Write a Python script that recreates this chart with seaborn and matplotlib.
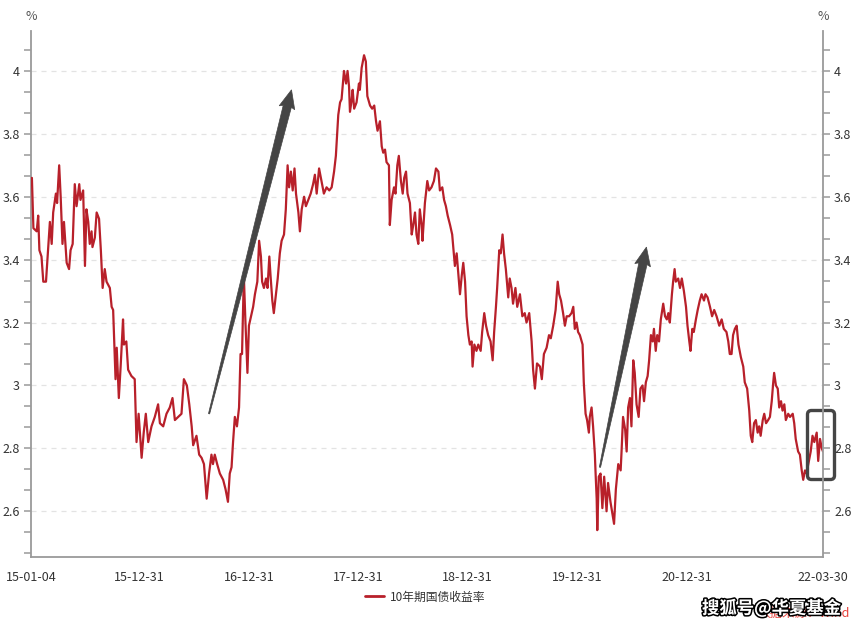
import numpy as np
import pandas as pd
import matplotlib
matplotlib.use("Agg")
import matplotlib.pyplot as plt
import matplotlib.dates as mdates
import matplotlib.patheffects as pe
from matplotlib.patches import FancyBboxPatch, Polygon
from matplotlib.lines import Line2D
import seaborn as sns

# ---------------- data ----------------
dates_2015 = ["2015-01-04","2015-01-07","2015-01-12","2015-01-23","2015-01-28","2015-02-01","2015-02-08",
              "2015-02-14","2015-02-23","2015-03-02","2015-03-08","2015-03-14","2015-03-19","2015-03-28",
              "2015-04-01","2015-04-08","2015-04-13","2015-04-19","2015-04-24","2015-05-03","2015-05-11",
              "2015-05-16","2015-05-23","2015-05-30","2015-06-05","2015-06-14","2015-06-18","2015-06-27",
              "2015-07-03","2015-07-08","2015-07-14","2015-07-19","2015-07-25","2015-07-28","2015-08-05",
              "2015-08-11","2015-08-19","2015-08-25","2015-08-31","2015-09-07","2015-09-13","2015-09-24",
              "2015-09-30","2015-10-05","2015-10-13","2015-10-17","2015-10-24","2015-10-30","2015-11-07",
              "2015-11-10","2015-11-18","2015-11-24","2015-12-05","2015-12-16","2015-12-22","2015-12-29"]
yields_2015 = [3.64,3.66,3.50,3.49,3.54,3.43,3.41,3.33,3.33,3.43,3.52,3.45,3.55,3.61,
               3.58,3.70,3.60,3.45,3.52,3.39,3.37,3.43,3.45,3.64,3.57,3.64,3.59,3.62,
               3.38,3.56,3.52,3.45,3.49,3.44,3.47,3.55,3.53,3.43,3.31,3.37,3.33,3.31,
               3.25,3.24,3.02,3.12,2.96,3.06,3.21,3.13,3.14,3.05,3.03,3.02,2.82,2.91]

dates_2016 = ["2016-01-08","2016-01-15","2016-01-22","2016-01-30","2016-02-10","2016-02-21","2016-03-03",
              "2016-03-09","2016-03-20","2016-03-31","2016-04-11","2016-04-20","2016-04-28","2016-05-09",
              "2016-05-20","2016-05-28","2016-06-07","2016-06-15","2016-06-23","2016-06-28","2016-07-09",
              "2016-07-18","2016-07-26","2016-08-03","2016-08-12","2016-08-20","2016-08-28","2016-09-02",
              "2016-09-08","2016-09-16","2016-09-25","2016-10-06","2016-10-14","2016-10-22","2016-10-28",
              "2016-11-03","2016-11-08","2016-11-14","2016-11-21","2016-11-28","2016-12-03","2016-12-08",
              "2016-12-14","2016-12-19","2016-12-26","2016-12-31"]
yields_2016 = [2.77,2.85,2.91,2.82,2.87,2.90,2.94,2.88,2.87,2.91,2.93,2.96,2.89,2.90,
               2.91,3.02,3.00,2.94,2.87,2.81,2.84,2.78,2.77,2.75,2.64,2.72,2.78,2.75,
               2.78,2.75,2.72,2.70,2.67,2.63,2.72,2.74,2.82,2.90,2.87,2.93,3.10,3.10,
               3.35,3.21,3.04,3.19]

dates_2017 = ["2017-01-07","2017-01-14","2017-01-20","2017-01-28","2017-02-03","2017-02-09","2017-02-13",
              "2017-02-19","2017-02-26","2017-03-03","2017-03-09","2017-03-13","2017-03-19","2017-03-24",
              "2017-03-31","2017-04-06","2017-04-13","2017-04-19","2017-04-27","2017-05-03","2017-05-09",
              "2017-05-14","2017-05-20","2017-05-26","2017-06-01","2017-06-06","2017-06-14","2017-06-19",
              "2017-06-25","2017-07-03","2017-07-09","2017-07-17","2017-07-25","2017-08-02","2017-08-08",
              "2017-08-14","2017-08-22","2017-08-30","2017-09-07","2017-09-16","2017-09-25","2017-10-03",
              "2017-10-11","2017-10-17","2017-10-25","2017-10-31","2017-11-05","2017-11-13","2017-11-20",
              "2017-11-25","2017-11-30","2017-12-03","2017-12-09","2017-12-12","2017-12-17","2017-12-25"]
yields_2017 = [3.22,3.25,3.29,3.33,3.46,3.41,3.33,3.31,3.34,3.31,3.41,3.35,3.27,3.23,
               3.29,3.34,3.42,3.46,3.48,3.56,3.70,3.63,3.68,3.62,3.69,3.61,3.55,3.49,
               3.56,3.60,3.57,3.59,3.61,3.64,3.67,3.61,3.69,3.65,3.61,3.63,3.62,3.63,
               3.68,3.73,3.86,3.90,3.91,4.00,3.96,4.00,3.95,3.87,3.91,3.94,3.88,3.90]

dates_2018 = ["2018-01-02","2018-01-05","2018-01-11","2018-01-19","2018-01-25","2018-01-30","2018-02-08",
              "2018-02-15","2018-02-22","2018-02-28","2018-03-05","2018-03-13","2018-03-19","2018-03-24",
              "2018-03-30","2018-04-04","2018-04-12","2018-04-15","2018-04-21","2018-04-29","2018-05-04",
              "2018-05-10","2018-05-15","2018-05-22","2018-05-28","2018-06-02","2018-06-08","2018-06-13",
              "2018-06-21","2018-06-27","2018-07-02","2018-07-08","2018-07-13","2018-07-19","2018-07-24",
              "2018-07-30","2018-08-02","2018-08-10","2018-08-18","2018-08-24","2018-09-01","2018-09-09",
              "2018-09-16","2018-09-24","2018-09-29","2018-10-07","2018-10-13","2018-10-19","2018-10-25",
              "2018-11-02","2018-11-09","2018-11-18","2018-11-24","2018-11-29","2018-12-05","2018-12-11",
              "2018-12-16","2018-12-22","2018-12-27"]
yields_2018 = [3.96,3.94,4.01,4.05,4.03,3.92,3.89,3.88,3.89,3.84,3.81,3.84,3.76,3.74,
               3.75,3.71,3.70,3.51,3.59,3.63,3.61,3.70,3.73,3.65,3.61,3.66,3.68,3.61,
               3.58,3.48,3.51,3.55,3.48,3.45,3.56,3.51,3.46,3.58,3.65,3.62,3.63,3.65,
               3.69,3.68,3.62,3.63,3.59,3.57,3.54,3.51,3.48,3.38,3.42,3.36,3.29,3.35,
               3.39,3.33,3.22]

dates_2019 = ["2019-01-02","2019-01-07","2019-01-13","2019-01-16","2019-01-22","2019-01-29","2019-02-04",
              "2019-02-12","2019-02-17","2019-02-24","2019-03-02","2019-03-09","2019-03-17","2019-03-24",
              "2019-03-29","2019-04-04","2019-04-08","2019-04-15","2019-04-20","2019-04-26","2019-05-01",
              "2019-05-07","2019-05-15","2019-05-20","2019-05-26","2019-05-31","2019-06-08","2019-06-14",
              "2019-06-23","2019-07-01","2019-07-09","2019-07-15","2019-07-24","2019-08-01","2019-08-06",
              "2019-08-12","2019-08-19","2019-08-29","2019-09-04","2019-09-11","2019-09-20","2019-09-28",
              "2019-10-04","2019-10-12","2019-10-20","2019-10-27","2019-11-01","2019-11-07","2019-11-14",
              "2019-11-20","2019-11-26","2019-12-04","2019-12-12","2019-12-18","2019-12-23","2019-12-29"]
yields_2019 = [3.16,3.13,3.14,3.06,3.13,3.11,3.13,3.11,3.17,3.23,3.19,3.16,3.14,3.08,
               3.17,3.25,3.31,3.43,3.42,3.48,3.42,3.37,3.28,3.34,3.31,3.26,3.31,3.25,
               3.29,3.22,3.23,3.20,3.23,3.14,3.05,2.99,3.07,3.06,3.02,3.10,3.12,3.16,
               3.15,3.19,3.24,3.33,3.29,3.27,3.23,3.19,3.22,3.22,3.23,3.25,3.18,3.20]

dates_2020 = ["2020-01-03","2020-01-09","2020-01-18","2020-01-22","2020-01-28","2020-02-02","2020-02-08",
              "2020-02-11","2020-02-17","2020-02-22","2020-02-28","2020-03-01","2020-03-05","2020-03-07",
              "2020-03-12","2020-03-18","2020-03-24","2020-03-30","2020-04-07","2020-04-12","2020-04-20",
              "2020-04-27","2020-05-02","2020-05-08","2020-05-16","2020-05-24","2020-05-27","2020-06-01",
              "2020-06-08","2020-06-13","2020-06-18","2020-06-24","2020-06-29","2020-07-05","2020-07-10",
              "2020-07-16","2020-07-23","2020-07-29","2020-08-05","2020-08-10","2020-08-16","2020-08-22",
              "2020-08-27","2020-09-02","2020-09-08","2020-09-12","2020-09-18","2020-09-23","2020-09-29",
              "2020-10-05","2020-10-13","2020-10-19","2020-10-25","2020-10-30","2020-11-04","2020-11-11",
              "2020-11-15","2020-11-20","2020-11-24","2020-12-02","2020-12-08","2020-12-14","2020-12-21",
              "2020-12-28"]
yields_2020 = [3.17,3.16,3.13,3.01,2.91,2.89,2.85,2.90,2.93,2.87,2.78,2.73,2.64,2.54,
               2.71,2.72,2.61,2.71,2.60,2.69,2.63,2.59,2.56,2.67,2.75,2.73,2.79,2.90,
               2.86,2.79,2.93,2.96,2.87,3.08,3.04,2.94,2.90,2.99,3.00,2.95,3.01,3.03,
               3.08,3.16,3.14,3.18,3.11,3.16,3.14,3.21,3.26,3.22,3.21,3.23,3.20,3.29,
               3.33,3.37,3.33,3.34,3.31,3.34,3.30,3.25]

dates_2021 = ["2021-01-02","2021-01-08","2021-01-12","2021-01-18","2021-01-23","2021-01-30","2021-02-05",
              "2021-02-12","2021-02-18","2021-02-26","2021-03-03","2021-03-10","2021-03-18","2021-03-25",
              "2021-04-01","2021-04-09","2021-04-18","2021-04-26","2021-05-03","2021-05-12","2021-05-18",
              "2021-05-23","2021-05-29","2021-06-03","2021-06-09","2021-06-15","2021-06-21","2021-06-29",
              "2021-07-07","2021-07-12","2021-07-20","2021-07-27","2021-08-01","2021-08-06","2021-08-12",
              "2021-08-18","2021-08-24","2021-08-29","2021-09-03","2021-09-10","2021-09-15","2021-09-21",
              "2021-09-28","2021-10-04","2021-10-10","2021-10-15","2021-10-18","2021-10-24","2021-10-30",
              "2021-11-04","2021-11-10","2021-11-15","2021-11-21","2021-11-26","2021-12-04","2021-12-10",
              "2021-12-19","2021-12-24","2021-12-29"]
yields_2021 = [3.19,3.14,3.11,3.18,3.17,3.21,3.24,3.27,3.29,3.27,3.29,3.28,3.25,3.22,
               3.24,3.22,3.19,3.21,3.18,3.17,3.14,3.10,3.10,3.16,3.18,3.19,3.13,3.09,
               3.06,3.01,2.99,2.92,2.84,2.82,2.88,2.89,2.85,2.87,2.84,2.89,2.91,2.88,
               2.89,2.90,2.95,3.01,3.04,3.00,2.99,2.93,2.95,2.92,2.94,2.89,2.91,2.90,
               2.91,2.88,2.83]

dates_2022 = ["2022-01-06","2022-01-12","2022-01-18","2022-01-23","2022-01-29","2022-02-03","2022-02-11",
              "2022-02-17","2022-02-23","2022-03-01","2022-03-09","2022-03-14","2022-03-20","2022-03-26",
              "2022-03-30"]
yields_2022 = [2.79,2.78,2.73,2.70,2.73,2.72,2.76,2.79,2.84,2.82,2.85,2.76,2.83,2.80,2.79]

series_name = "10年期国债收益率"
major_dates = ["2015-01-04","2015-12-31","2016-12-31","2017-12-31","2018-12-31",
               "2019-12-31","2020-12-31","2021-12-31","2022-03-30"]
major_labels = ["15-01-04","15-12-31","16-12-31","17-12-31","18-12-31",
                "19-12-31","20-12-31","","22-03-30"]
y_labels = [2.6, 2.8, 3.0, 3.2, 3.4, 3.6, 3.8, 4.0]

# annotation anchors (date, value)
arrow1 = (("2016-08-20", 2.91), ("2017-05-22", 3.94))
arrow2 = (("2020-03-16", 2.74), ("2020-08-18", 3.44))

RED = "#B8202A"
DARK = "#454545"
AXIS = "#9a9a9a"
TXT = "#333333"

# ---------------- build frame ----------------
all_dates = (dates_2015 + dates_2016 + dates_2017 + dates_2018 + dates_2019 +
             dates_2020 + dates_2021 + dates_2022)
all_yields = (yields_2015 + yields_2016 + yields_2017 + yields_2018 + yields_2019 +
              yields_2020 + yields_2021 + yields_2022)
df = pd.DataFrame({"date": pd.to_datetime(all_dates), "yield": all_yields})

sns.set_theme(style="white")
plt.rcParams["font.family"] = ["Noto Sans CJK SC", "DejaVu Sans"]

W, H = 859, 628
fig = plt.figure(figsize=(W / 100, H / 100), dpi=100)
fig.patch.set_facecolor("white")
ax = fig.add_axes([31 / W, 1 - 557 / H, 792 / W, 526 / H])

sns.lineplot(data=df, x="date", y="yield", ax=ax, color=RED, linewidth=1.6,
             legend=False, zorder=3)

# limits
x0 = pd.Timestamp("2015-01-04")
x1 = pd.Timestamp("2022-03-30")
ax.set_xlim(x0, x1)
ylo, yhi = 2.4546, 4.127
ax.set_ylim(ylo, yhi)

# x ticks
maj = [pd.Timestamp(d) for d in major_dates]
ax.set_xticks(maj)
ax.set_xticklabels(major_labels)
minor = pd.date_range("2015-03-31", "2021-12-31", freq="QE")
minor = [m for m in minor if m not in maj]
ax.set_xticks(minor, minor=True)

# y ticks
step = 0.2 / 3
yt = [2.6 + k * step for k in range(-2, 23)]
ax.set_yticks(y_labels)
ax.set_yticklabels([f"{v:g}" for v in y_labels])
ax.set_yticks([t for t in yt if min(abs(t - v) for v in y_labels) > 1e-6], minor=True)

ax.grid(False)
for v in y_labels:
    ax.axhline(v, color="#e3e3e3", lw=0.9, ls=(0, (4, 4)), zorder=1)

for s in ["top", "right"]:
    ax.spines[s].set_visible(False)
for s in ["left", "bottom"]:
    ax.spines[s].set_color(AXIS)
    ax.spines[s].set_linewidth(1.3)

ax.tick_params(axis="x", which="major", length=8, width=1.1, color=AXIS,
               labelsize=9, labelcolor=TXT, pad=2, direction="out")
ax.tick_params(axis="x", which="minor", length=5, width=1.1, color=AXIS, direction="out")
ax.tick_params(axis="y", which="both", length=5, width=1.1, color=AXIS,
               labelsize=9, labelcolor=TXT, pad=3, direction="out", left=True)
ax.set_xlabel("")
ax.set_ylabel("")

# right axis
ax2 = ax.twinx()
ax2.set_ylim(ylo, yhi)
ax2.set_yticks(y_labels)
ax2.set_yticklabels([f"{v:g}" for v in y_labels])
ax2.set_yticks([t for t in yt if min(abs(t - v) for v in y_labels) > 1e-6], minor=True)
for s in ["top", "left", "bottom"]:
    ax2.spines[s].set_visible(False)
ax2.spines["right"].set_color(AXIS)
ax2.spines["right"].set_linewidth(1.3)
ax2.tick_params(axis="y", which="both", length=5, width=1.1, color=AXIS,
                labelsize=9, labelcolor=TXT, pad=3, direction="out", right=True)
ax2.grid(False)

# unit labels
fig.text(31 / W, 1 - 16 / H, "%", ha="center", va="center", fontsize=9, color="#555555")
fig.text(823 / W, 1 - 16 / H, "%", ha="center", va="center", fontsize=9, color="#555555")

# tapered arrows (thin tail widening towards a triangular head)
inv = fig.transFigure.inverted()
for (d0, v0), (d1, v1) in (arrow1, arrow2):
    p0 = ax.transData.transform((mdates.date2num(pd.Timestamp(d0)), v0))
    p1 = ax.transData.transform((mdates.date2num(pd.Timestamp(d1)), v1))
    u = (p1 - p0) / np.hypot(*(p1 - p0))
    n = np.array([-u[1], u[0]])
    head_len, head_half, tail_half, start_half = 17.0, 8.0, 4.2, 0.6
    pb = p1 - u * head_len
    pts = [p0 + n * start_half, pb + n * tail_half, pb - u * 1.5 + n * head_half, p1,
           pb - u * 1.5 - n * head_half, pb - n * tail_half, p0 - n * start_half]
    pts = inv.transform(np.array(pts))
    fig.patches.append(Polygon(pts, closed=True, transform=fig.transFigure,
                               facecolor=DARK, edgecolor=DARK, linewidth=0.5, zorder=5))

# highlight box (axes fraction)
bx0 = (807.5 - 31) / 792
bx1 = (834.5 - 31) / 792
by0 = (557 - 479.5) / 526
by1 = (557 - 410.5) / 526
box = FancyBboxPatch((bx0, by0), bx1 - bx0, by1 - by0,
                     boxstyle="round,pad=0,rounding_size=0.005",
                     mutation_aspect=792 / 526, transform=ax.transAxes,
                     fill=False, edgecolor=DARK, linewidth=2.4, clip_on=False, zorder=6)
ax.add_patch(box)

# legend
handle = Line2D([], [], color=RED, lw=2)
fig.legend([handle], [series_name], loc="center", bbox_to_anchor=(425 / W, 1 - 597 / H),
           frameon=False, fontsize=8.5, handlelength=1.6, handletextpad=0.5,
           labelcolor=TXT)

# source / watermark (overlapping as in the reference)
fig.text(758 / W, 1 - 613 / H, "数据来源：Wind", ha="left", va="center",
         fontsize=9, color="#E8403A")
fig.text(702 / W, 1 - 608 / H, "搜狐号@华夏基金", ha="left", va="center",
         fontsize=12.5, color="white", fontweight="bold",
         path_effects=[pe.withStroke(linewidth=2.2, foreground="black")])

fig.savefig("out.png", dpi=100, facecolor="white")
